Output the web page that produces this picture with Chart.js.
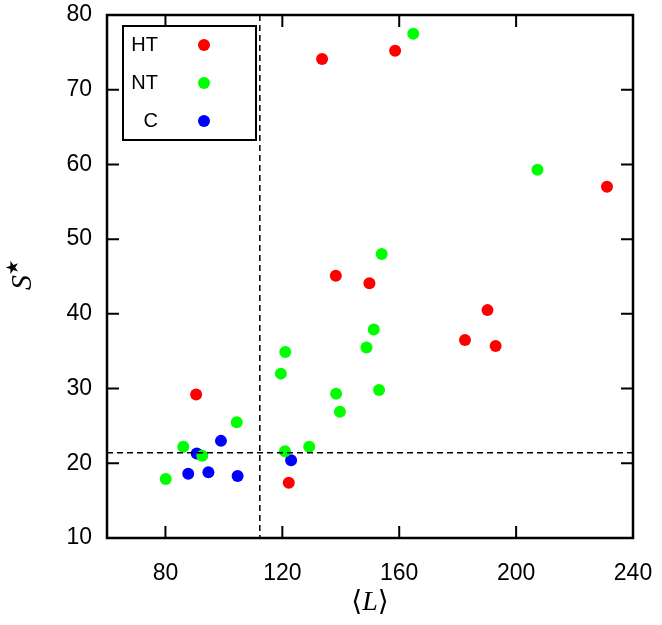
<!DOCTYPE html>
<html>
<head>
<meta charset="utf-8">
<script src="https://cdn.jsdelivr.net/npm/chart.js@4/dist/chart.umd.min.js"></script>
<style>
  html, body { margin: 0; padding: 0; background: #fff; }
  canvas { display: block; }
</style>
</head>
<body>
<canvas id="chart" width="662" height="625"></canvas>
<script>
// S* vs <L> scatter

// ==================== DATA ====================
const htX = [133.6, 158.6, 231.1, 138.3, 149.8, 190.2, 182.5, 193.0, 90.5, 122.2];
const htY = [74.1, 75.2, 57.0, 45.1, 44.1, 40.5, 36.5, 35.7, 29.2, 17.4];

const ntX = [164.8, 207.3, 154.0, 151.3, 148.8, 121.0, 119.5, 138.4, 153.1, 139.7, 120.9, 129.2, 104.4, 86.1, 92.6, 80.1];
const ntY = [77.5, 59.3, 48.0, 37.9, 35.5, 34.9, 32.0, 29.3, 29.8, 26.9, 21.6, 22.2, 25.5, 22.2, 21.0, 17.9];

const cX = [99.0, 90.7, 87.8, 94.7, 104.7, 123.0];
const cY = [23.0, 21.3, 18.6, 18.8, 18.3, 20.4];

const xTicks = [80, 120, 160, 200, 240];
const yTicks = [10, 20, 30, 40, 50, 60, 70, 80];

const cutL = 112.3;   // vertical dashed line
const cutS = 21.4;    // horizontal dashed line

const SERIF = '"Liberation Serif", "DejaVu Serif", serif';
const SANS = '"Liberation Sans", Arial, sans-serif';

// ==================== HELPERS ====================
const toPoints = (xs, ys) => xs.map((x, i) => ({ x: x, y: ys[i] }));

const frameAndTicks = {
    id: 'frameAndTicks',
    afterDraw(chart) {
        const { ctx, chartArea: a, scales: { x, y } } = chart;
        ctx.save();
        // dashed cut lines
        ctx.strokeStyle = '#000';
        ctx.lineWidth = 1.5;
        ctx.setLineDash([6, 4]);
        const px = x.getPixelForValue(cutL);
        const py = y.getPixelForValue(cutS);
        ctx.beginPath();
        ctx.moveTo(px, a.top); ctx.lineTo(px, a.bottom);
        ctx.moveTo(a.left, py); ctx.lineTo(a.right, py);
        ctx.stroke();
        ctx.setLineDash([]);
        // inward ticks on all sides
        ctx.lineWidth = 2;
        ctx.beginPath();
        xTicks.forEach(v => {
            const p = x.getPixelForValue(v);
            ctx.moveTo(p, a.bottom); ctx.lineTo(p, a.bottom - 12);
            ctx.moveTo(p, a.top); ctx.lineTo(p, a.top + 12);
        });
        yTicks.forEach(v => {
            const p = y.getPixelForValue(v);
            ctx.moveTo(a.left, p); ctx.lineTo(a.left + 12, p);
            ctx.moveTo(a.right, p); ctx.lineTo(a.right - 12, p);
        });
        ctx.stroke();
        // box
        ctx.lineWidth = 2.5;
        ctx.strokeRect(a.left, a.top, a.right - a.left, a.bottom - a.top);
        // legend box
        const lx = a.left + 16, ly = a.top + 11;
        ctx.fillStyle = '#fff';
        ctx.fillRect(lx, ly, 133, 114);
        ctx.lineWidth = 2;
        ctx.strokeRect(lx, ly, 133, 114);
        ctx.font = '20px ' + SANS;
        ctx.textAlign = 'right';
        ctx.textBaseline = 'middle';
        chart.data.datasets.forEach((ds, i) => {
            const cy = ly + 19 + i * 38;
            ctx.fillStyle = '#000';
            ctx.fillText(ds.label, lx + 35, cy);
            ctx.fillStyle = ds.backgroundColor;
            ctx.beginPath();
            ctx.arc(lx + 81, cy, 6, 0, Math.PI * 2);
            ctx.fill();
        });

        // axis titles: <L> with upright brackets, S with superscript star
        ctx.fillStyle = '#000';
        ctx.textBaseline = 'alphabetic';
        ctx.textAlign = 'left';
        const cx = (a.left + a.right) / 2;
        const parts = [['⟨', 'normal'], ['L', 'italic'], ['⟩', 'normal']];
        let w = 0;
        parts.forEach(p => { ctx.font = p[1] + ' 28px ' + SERIF; w += ctx.measureText(p[0]).width; });
        let tx = cx - w / 2;
        parts.forEach(p => {
            ctx.font = p[1] + ' 28px ' + SERIF;
            ctx.fillText(p[0], tx, 610);
            tx += ctx.measureText(p[0]).width;
        });

        ctx.translate(31, (a.top + a.bottom) / 2);
        ctx.rotate(-Math.PI / 2);
        ctx.font = 'italic 30px ' + SERIF;
        const sw = ctx.measureText('S').width;
        ctx.fillText('S', -sw / 2 - 6, 0);
        ctx.font = '17px "DejaVu Sans", sans-serif';
        ctx.fillText('★', sw / 2 - 6, -13);
        ctx.restore();
    }
};

// ==================== CHART ====================
new Chart(document.getElementById('chart'), {
    type: 'scatter',
    data: {
        datasets: [
            { label: 'HT', data: toPoints(htX, htY), backgroundColor: '#ff0000', borderWidth: 0, pointRadius: 6 },
            { label: 'NT', data: toPoints(ntX, ntY), backgroundColor: '#00ff00', borderWidth: 0, pointRadius: 6 },
            { label: 'C', data: toPoints(cX, cY), backgroundColor: '#0000ff', borderWidth: 0, pointRadius: 6 }
        ]
    },
    options: {
        responsive: false,
        animation: false,
        devicePixelRatio: 1,
        layout: { padding: { top: 15, right: 29, left: 0, bottom: 0 } },
        plugins: { legend: { display: false }, tooltip: { enabled: false } },
        scales: {
            x: {
                type: 'linear', min: 60, max: 240,
                afterBuildTicks: s => { s.ticks = xTicks.map(v => ({ value: v })); },
                afterFit: s => { s.height = 87; s.paddingLeft = 0; s.paddingRight = 0; },
                grid: { display: false },
                border: { display: false },
                ticks: { color: '#000', padding: 14, font: { size: 23, family: SANS } }
            },
            y: {
                type: 'linear', min: 10, max: 80,
                afterBuildTicks: s => { s.ticks = yTicks.map(v => ({ value: v })); },
                afterFit: s => { s.width = 107; s.paddingTop = 0; s.paddingBottom = 0; },
                grid: { display: false },
                border: { display: false },
                ticks: { color: '#000', padding: 7, font: { size: 23, family: SANS } }
            }
        }
    },
    plugins: [frameAndTicks]
});
</script>
</body>
</html>
